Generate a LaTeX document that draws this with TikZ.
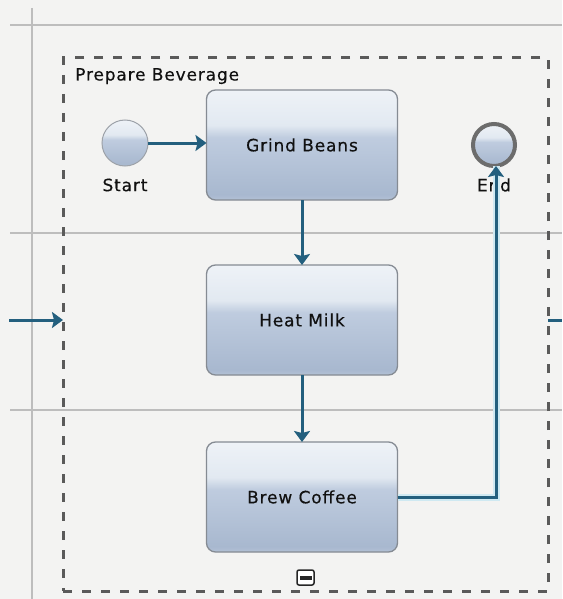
\documentclass[tikz,border=0pt]{standalone}
\usepackage{fontspec}
\setmainfont{DejaVu Sans}[LetterSpace=5,FakeBold=0.35]
\usetikzlibrary{arrows.meta}
\definecolor{bg}{HTML}{F3F3F2}
\definecolor{gridcol}{HTML}{BDBDBD}
\definecolor{dashcol}{HTML}{5A5A5A}
\definecolor{flow}{HTML}{235F7E}
\definecolor{glow}{HTML}{CFE9F2}
\definecolor{tborder}{HTML}{858B93}
\definecolor{ttop}{HTML}{EEF2F7}
\definecolor{thi}{HTML}{E2E9F1}
\definecolor{tmid}{HTML}{BFCCDF}
\definecolor{tlow}{HTML}{A8B8CF}
\definecolor{tbot}{HTML}{B3C1D5}
\definecolor{txt}{HTML}{111111}
\pgfdeclareverticalshading{taskshade}{100bp}{color(0bp)=(tbot); color(25bp)=(tbot); color(27.5bp)=(tlow); color(53.5bp)=(tmid); color(59bp)=(thi); color(75bp)=(ttop); color(100bp)=(ttop)}
\tikzset{
  task/.style={draw=tborder, line width=1.3pt, rounded corners=9pt, shading=taskshade,
    minimum width=191pt, minimum height=110pt, inner sep=0pt, outer sep=0pt,
    font=\fontsize{17}{20}\selectfont, text=txt},
  event/.style={circle, draw=tborder!80, line width=1pt, shading=taskshade,
    minimum size=46pt, inner sep=0pt, outer sep=0pt},
  endevent/.style={circle, draw=gray!85!black, line width=4pt, shading=taskshade,
    minimum size=42pt, inner sep=0pt, outer sep=0pt},
  lbl/.style={font=\fontsize{17}{20}\selectfont, text=txt, inner sep=0pt},
  flowline/.style={draw=flow, line width=3pt, -{Stealth[length=11pt,width=16pt,inset=2pt]}},
  gridline/.style={draw=gridcol, line width=2.5pt},
  subproc/.style={draw=dashcol, line width=3pt, dash pattern=on 9pt off 10pt,
    minimum width=485pt, minimum height=533pt, inner sep=0pt, outer sep=0pt},
}
\begin{document}
\begin{tikzpicture}[x=1pt,y=-1pt]
\useasboundingbox (0,0) rectangle (562,599);
\fill[bg] (0,0) rectangle (562,599);
% lanes
\draw[gridline] (32,8) -- (32,599);
\draw[gridline] (10,25) -- (562,25);
\draw[gridline] (10,233) -- (562,233);
\draw[gridline] (10,410) -- (562,410);
% sub-process
\node[subproc] (sub) at (305.5,324.5) {};
\node[lbl, anchor=base west] (title) at (75,80.5) {Prepare Beverage};
% collapse marker
\node[draw=black!85, line width=1.5pt, rounded corners=2pt, fill=white,
  minimum width=17pt, minimum height=15pt, inner sep=0pt] (collapse) at (305.5,577.5) {};
\fill[black!85] ([xshift=-6pt,yshift=-2pt]collapse.center) rectangle ([xshift=6pt,yshift=2pt]collapse.center);
% events
\node[event] (start) at (125,143) {};
\node[endevent] (endev) at (494,145) {};
\node[lbl] (startlbl) at (125,185) {Start};
\node[lbl] (endlbl) at (494,185) {End};
% tasks
\node[task] (grind) at (302,145) {Grind Beans};
\node[task] (heat) at (302,320) {Heat Milk};
\node[task] (brew) at (302,497) {Brew Coffee};
% connectors
\coordinate (inL) at (9,320);
\coordinate (outR) at (562,320);
\coordinate (bend) at (496,497);
\draw[flowline] (inL) -- (inL -| sub.west);
\draw[draw=flow, line width=3pt] (sub.east |- outR) -- (outR);
\draw[flowline] (start.east) -- (start.east -| grind.west);
\draw[flowline] (grind.south) -- (heat.north);
\draw[flowline] (heat.south) -- (brew.north);
\draw[draw=glow, line width=7pt] (brew.east) -- (bend) -- (bend |- endev.south);
\draw[flowline] (brew.east) -- (bend) -- (bend |- endev.south);
\end{tikzpicture}
\end{document}
